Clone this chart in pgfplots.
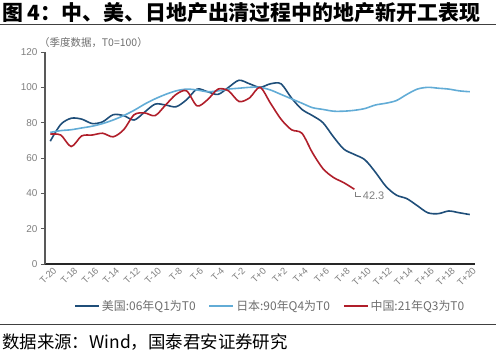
\documentclass[border=0pt]{standalone}
\usepackage{pgfplots}
\pgfplotsset{compat=1.18}
\usepackage{fontspec}
\setmainfont{Liberation Sans}
\newfontfamily\cjk{Noto Sans CJK SC}
\definecolor{usblue}{HTML}{1F4E79}
\definecolor{jpblue}{HTML}{62ACD6}
\definecolor{cnred}{HTML}{B01E2A}
\definecolor{txtgray}{HTML}{7F7F7F}
\definecolor{lgdgray}{HTML}{6E6E6E}
\definecolor{spine}{HTML}{595959}
\begin{document}
\begin{tikzpicture}
\path[use as bounding box] (0,0) rectangle (500bp,352bp);
\begin{axis}[
  at={(45bp,88bp)}, anchor=south west,
  scale only axis, width=430bp, height=212bp,
  xmin=-20.5, xmax=20.5, ymin=0, ymax=120,
  axis x line*=bottom, axis y line*=left,
  x axis line style={-, draw=black!85, line width=1.1bp},
  y axis line style={-, draw=spine, line width=1.3bp},
  xtick={-20,-18,...,20},
  xticklabels={T-20,T-18,T-16,T-14,T-12,T-10,T-8,T-6,T-4,T-2,T+0,T+2,T+4,T+6,T+8,T+10,T+12,T+14,T+16,T+18,T+20},
  x tick label style={rotate=45, anchor=north east, font=\fontsize{9.5}{10}\selectfont, text=txtgray, inner sep=0.5bp, xshift=3bp},
  major x tick style={draw=none},
  extra x ticks={-20.5,-18.5,...,20.5},
  extra x tick labels={},
  extra x tick style={tick align=outside, major tick length=4bp, tick style={draw=black!85, line width=0.8bp}},
  ytick={0,20,...,120},
  y tick label style={font=\fontsize{10}{11}\selectfont, text=txtgray},
  tick align=outside, major tick length=4bp,
  major y tick style={draw=spine, line width=0.8bp},
  /pgf/number format/assume math mode=true,
  legend columns=3,
  legend style={at={(0.524,-0.198)}, anchor=center, draw=none, fill=none,
    font=\cjk\fontsize{12}{13}\selectfont, text=lgdgray,
    /tikz/every even column/.append style={column sep=11bp}},
  legend image code/.code={\draw[#1] (0bp,0bp) -- (24bp,0bp);},
  clip=false,
]
\addplot[color=usblue, line width=1.6bp, smooth, tension=0.5] coordinates {
(-20,69.5) (-19,79) (-18,82.5) (-17,82) (-16,79.5) (-15,80.5) (-14,84.5) (-13,84) (-12,81.5) (-11,86)
(-10,90.5) (-9,90) (-8,89) (-7,93) (-6,99) (-5,97.5) (-4,96) (-3,100) (-2,104) (-1,102)
(0,100) (1,102) (2,102) (3,94) (4,87.5) (5,84) (6,80) (7,72) (8,65) (9,62)
(10,59) (11,52) (12,44) (13,39) (14,37) (15,33) (16,29) (17,28.5) (18,30) (19,29) (20,28)
};
\addlegendentry{美国:06年Q1为T0}
\addplot[color=jpblue, line width=1.6bp, smooth, tension=0.5] coordinates {
(-20,74.5) (-19,75.5) (-18,76) (-17,77) (-16,78) (-15,79.5) (-14,81.5) (-13,84) (-12,87) (-11,90.5)
(-10,93.5) (-9,96) (-8,98) (-7,99) (-6,98.5) (-5,97.5) (-4,98) (-3,99) (-2,99.5) (-1,100)
(0,100) (1,98.5) (2,96) (3,93.5) (4,91) (5,88.5) (6,87.5) (7,86.5) (8,86.5) (9,87)
(10,88) (11,90) (12,91) (13,92.5) (14,96) (15,99) (16,100) (17,99.5) (18,99) (19,98) (20,97.5)
};
\addlegendentry{日本:90年Q4为T0}
\addplot[color=cnred, line width=1.6bp, smooth, tension=0.5] coordinates {
(-20,73.5) (-19,73) (-18,66.5) (-17,72.5) (-16,73) (-15,74) (-14,72) (-13,76) (-12,84.5) (-11,85.5)
(-10,84) (-9,90) (-8,96) (-7,98) (-6,89.5) (-5,93) (-4,99) (-3,98) (-2,92) (-1,94)
(0,100) (1,91) (2,82) (3,76) (4,74) (5,63) (6,54) (7,49) (8,46) (9,42.3)
};
\addlegendentry{中国:21年Q3为T0}
\draw[txtgray, line width=0.5bp] (axis cs:9.1,41) -- (axis cs:9.1,38.5) -- (axis cs:9.6,38.5);
\node[anchor=west, font=\fontsize{11}{12}\selectfont, text=txtgray, inner sep=1bp] at (axis cs:9.7,38.8) {42.3};
\end{axis}
\node[anchor=west, inner sep=0pt, font=\cjk\bfseries\fontsize{21}{23}\selectfont] at (2bp,339bp) {图 4：中、美、日地产出清过程中的地产新开工表现};
\draw[black!75, line width=1bp] (0bp,327bp) -- (496bp,327bp);
\node[anchor=west, inner sep=0pt, font=\cjk\fontsize{10.5}{12}\selectfont, text=lgdgray] at (39bp,309bp) {（季度数据，T0=100）};
\draw[black!75, line width=1bp] (0bp,27bp) -- (496bp,27bp);
\node[anchor=west, inner sep=0pt, font=\cjk\fontsize{17.5}{19}\selectfont] at (2bp,10bp) {数据来源：Wind，国泰君安证券研究};
\end{tikzpicture}
\end{document}
